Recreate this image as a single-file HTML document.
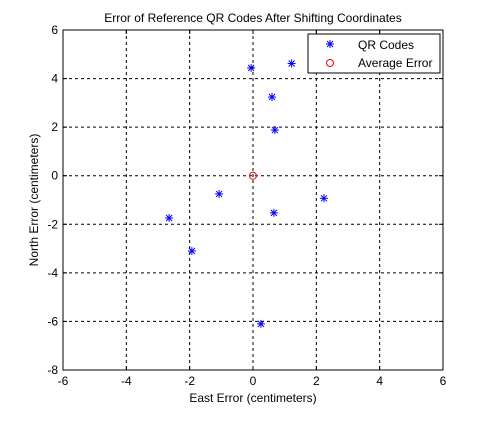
<!DOCTYPE html>
<html><head><meta charset="utf-8"><style>
body{margin:0;background:#fff;}
svg{display:block;font-family:"Liberation Sans",sans-serif;}
</style></head><body>
<svg id="chart" width="490" height="427"></svg>
<script>
const xTicks=[-6,-4,-2,0,2,4,6];
const yTicks=[-8,-6,-4,-2,0,2,4,6];
const qrX=[-0.06,1.22,0.6,0.69,2.24,-1.07,0.66,-2.65,-1.93,0.25];
const qrY=[4.44,4.62,3.24,1.88,-0.93,-0.75,-1.53,-1.74,-3.1,-6.1];
const avgX=[0];
const avgY=[0];
const NS='http://www.w3.org/2000/svg';
const svg=document.getElementById('chart');
const L=63,R=443,T=30,B=370;
const sx=v=>L+(v+6)/12*(R-L);
const sy=v=>B-(v+8)/14*(B-T);
function mk(t,a,p){const e=document.createElementNS(NS,t);for(const k in a)e.setAttribute(k,a[k]);(p||svg).appendChild(e);return e;}
const bg=mk('rect',{x:L,y:T,width:R-L,height:B-T,fill:'#fff',stroke:'none'});


xTicks.forEach(t=>{const x=sx(t);
 if(t>-6&&t<6){const g=mk('line',{x1:x,y1:T,x2:x,y2:B,stroke:'#000','stroke-width':1,'stroke-dasharray':'3,3'});}
 mk('line',{x1:x,y1:B,x2:x,y2:B-4,stroke:'#000'});mk('line',{x1:x,y1:T,x2:x,y2:T+4,stroke:'#000'});
 const tx=mk('text',{x:x,y:B+15,'text-anchor':'middle','font-size':12});tx.textContent=t;
 });
yTicks.forEach(t=>{const y=sy(t);
 if(t>-8&&t<6){const g=mk('line',{x1:L,y1:y,x2:R,y2:y,stroke:'#000','stroke-width':1,'stroke-dasharray':'3,3'});}
 mk('line',{x1:L,y1:y,x2:L+4,y2:y,stroke:'#000'});mk('line',{x1:R,y1:y,x2:R-4,y2:y,stroke:'#000'});
 const tx=mk('text',{x:L-5,y:y+4,'text-anchor':'end','font-size':12});tx.textContent=t;
 });
const fr=mk('rect',{x:L,y:T,width:R-L,height:B-T,fill:'none',stroke:'#000'});

function star(x,y,name){const g=mk('g',{stroke:'#0000ff','stroke-width':1});
 
 mk('line',{x1:x-4,y1:y,x2:x+4,y2:y},g);mk('line',{x1:x,y1:y-4,x2:x,y2:y+4},g);
 mk('line',{x1:x-3,y1:y-3,x2:x+3,y2:y+3},g);mk('line',{x1:x-3,y1:y+3,x2:x+3,y2:y-3},g);return g;}
qrX.forEach((v,i)=>star(sx(v),sy(qrY[i]),'qr-code-point'));
avgX.forEach((v,i)=>{const c=mk('circle',{cx:sx(v),cy:sy(avgY[i]),r:3.5,fill:'none',stroke:'#ff0000'});
 });
const title=mk('text',{x:253,y:22,'text-anchor':'middle','font-size':12});title.textContent='Error of Reference QR Codes After Shifting Coordinates';

const xl=mk('text',{x:253,y:402,'text-anchor':'middle','font-size':12});xl.textContent='East Error (centimeters)';

const yl=mk('text',{x:0,y:0,'text-anchor':'middle','font-size':12,transform:'translate(38,200) rotate(-90)'});yl.textContent='North Error (centimeters)';

const lg=mk('g',{});
mk('rect',{x:308,y:34,width:132,height:39,fill:'#fff',stroke:'#000'},lg);
star(330,44,'legend-qr-marker');
const t1=mk('text',{x:358,y:49,'font-size':12},lg);t1.textContent='QR Codes';

const lc=mk('circle',{cx:330,cy:63,r:3.5,fill:'none',stroke:'#ff0000'},lg);

const t2=mk('text',{x:358,y:67,'font-size':12},lg);t2.textContent='Average Error';

</script>
</body></html>
